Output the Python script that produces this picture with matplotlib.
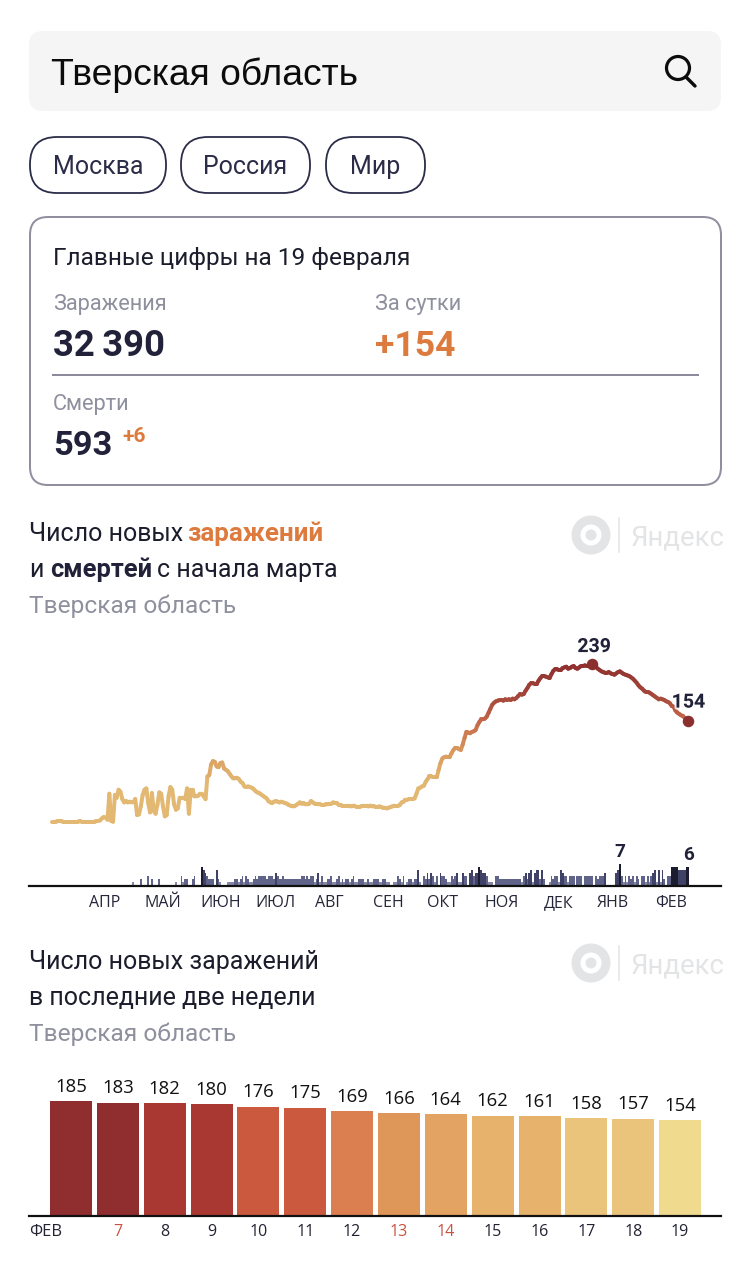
import matplotlib
matplotlib.use("Agg")
import matplotlib.pyplot as plt
import matplotlib.patheffects as pe
from matplotlib.patches import FancyBboxPatch, Circle
from matplotlib.collections import LineCollection
from matplotlib.colors import LinearSegmentedColormap, Normalize
import logging
logging.getLogger("matplotlib.font_manager").setLevel(logging.ERROR)

# ---- data ----
new_cases = [
    2,2,2,3,3,3,2,2,2,2, 2,2,2,2,2,3,2,2,2,2, 2,2,2,2,3,3,4,7,9,8,
    5,44,3,2,42,38,50,47,36,31, 33,31,32,31,31,36,12,13,25,42,
    50,52,30,16,45,18,14,28,46,44, 25,10,12,40,54,50,28,20,22,38,
    38,38,36,52,14,50,50,40,40,41, 44,44,40,36,70,72,88,93,92,85,
    84,90,91,82,80,78,74,70,67,67, 68,66,62,60,55,54,55,54,53,51,
    48,46,45,43,41,39,37,33,31,30, 32,33,32,31,32,31,30,29,27,26,
    25,25,27,29,31,29,30,28,28,29, 33,31,29,29,28,28,27,27,28,28,
    29,29,31,30,30,27,27,26,26,26, 26,25,25,26,25,24,24,25,26,26,
    26,25,26,25,25,24,24,25,24,23, 23,22,23,24,25,26,26,26,27,31,
    32,35,35,36,36,36,37,44,52,53, 55,56,62,66,70,70,69,69,69,80,
    90,97,99,100,100,100,105,110,113,113, 111,110,118,128,137,136,135,137,138,140,
    147,152,156,156,157,160,166,172,178,181, 183,184,185,185,184,186,185,186,185,187,
    186,188,191,194,193,194,199,203,208,210, 210,209,209,214,218,221,221,220,219,218,
    224,229,231,231,230,230,233,234,235,232, 233,235,236,233,232,234,236,236,237,236,
    237,238,239,238,235,232,230,228,227,226, 226,227,225,224,223,225,227,228,226,224,
    223,222,221,219,217,214,211,207,204,202, 199,197,197,196,194,192,190,188,186,187,
    186,185,183,182,180,176,175,169,166,164,162,161,158,157,154,
]
deaths = [
    0,0,0,0,0,0,0,0,0,0, 0,0,0,0,0,0,0,0,0,0, 0,0,0,0,0,0,0,0,0,0, 0,0,0,0,0,0,0,0,0,0,
    0,0,0,0,1,0,0,0,2,0, 0,0,3,0,2,0,0,0,2,0, 0,0,0,0,0,0,0,1,0,0, 3,1,2,2,0,0,2,3,0,0,
    0,6,5,4,3,2,2,2,0,5, 2,1,0,0,0,1,1,1,1,2, 2,1,2,3,1,3,2,1,1,2, 3,2,3,3,3,3,2,3,3,3,
    2,4,3,2,2,3,2,2,2,2, 2,2,2,2,2,3,3,2,3,2, 3,3,1,2,4,1,3,1,1,2, 2,3,1,1,2,3,1,2,1,2,
    2,1,2,3,1,1,2,2,2,1, 1,2,1,1,2,2,2,1,1,2, 2,1,1,0,0,1,1,3,2,1, 3,0,1,2,2,1,2,2,5,1,
    0,3,2,4,2,4,3,1,3,0, 4,3,3,2,1,1,3,2,3,4, 1,1,4,3,3,0,4,5,3,4, 4,6,5,4,4,3,1,1,1,0,
    3,3,2,2,2,2,2,2,2,2, 2,2,2,2,1,3,4,2,4,5, 1,4,5,5,2,5,2,0,0,1, 3,2,3,3,1,5,4,3,3,1,
    3,3,3,0,3,3,3,0,3,3, 3,3,3,0,3,2,3,3,3,4, 0,0,0,0,0,4,5,7,3,1, 3,1,3,2,3,1,3,2,0,3,
    3,1,3,1,3,4,5,1,5,1, 5,2,0,3,3,6,6,6,6,5, 5,5,5,6,6,
]
month_labels = ["АПР","МАЙ","ИЮН","ИЮЛ","АВГ","СЕН","ОКТ","НОЯ","ДЕК","ЯНВ","ФЕВ"]
month_pos = [28.6,60,91.4,121,149.7,181.6,211,243,274,303,334.6]

last14_days = ["7","8","9","10","11","12","13","14","15","16","17","18","19"]
last14_vals = [185,183,182,180,176,175,169,166,164,162,161,158,157,154]
last14_cols = ["#8f2d2f","#8f2d2f","#a93732","#a93732","#cb593e","#cb593e","#dc7f50",
               "#df9659","#e3a363","#e7b26c","#e7b26c","#ebc47b","#ebc47b","#f0da8e"]
holiday_days = ["7","13","14"]

FONT = ["Roboto","DejaVu Sans"]
OPEN = ["Open Sans","DejaVu Sans"]
plt.rcParams["font.family"] = FONT
W, H = 750, 1262
DPI = 100
INK, GREY, ORANGE = "#21223a", "#8f909e", "#dd7b3f"
def pt(px): return px*72/DPI

fig = plt.figure(figsize=(W/DPI, H/DPI), dpi=DPI, facecolor="white")
ui = fig.add_axes([0,0,1,1]); ui.set_xlim(0,W); ui.set_ylim(H,0); ui.axis("off")

def box(x0,y0,x1,y1,r,fc="none",ec="none",lw=0):
    ui.add_patch(FancyBboxPatch((x0+r,y0+r),x1-x0-2*r,y1-y0-2*r,boxstyle=f"round,pad={r},rounding_size={r}",
                                fc=fc,ec=ec,lw=lw*72/DPI))
def txt(x,y,s,size,color=INK,weight="normal",ha="left",family=None,**kw):
    return ui.text(x,y,s,fontsize=pt(size),color=color,fontweight=weight,ha=ha,va="baseline",
                   family=family or FONT,**kw)

# search box
box(29,31,721,111,14,fc="#f5f5f5")
txt(51,85,"Тверская область",37.3,color="#0c0c0c",family=["Liberation Sans","DejaVu Sans"])
ui.add_patch(Circle((678,68),11.5,fc="none",ec="#0c0c0c",lw=pt(3.2)))
ui.plot([686,695],[77,86],color="#0c0c0c",lw=pt(3.4),solid_capstyle="round")

# pills
for x0,x1,s in [(30,166,"Москва"),(181,310,"Россия"),(326,425,"Мир")]:
    box(x0,137,x1,193,27,fc="white",ec="#2b2c48",lw=1.8)
    txt((x0+x1)/2,174,s,25,color="#2b2c48",ha="center")

# summary card
box(30,217,721,485,18,fc="white",ec="#8f8f9f",lw=2)
txt(53,265,"Главные цифры на 19 февраля",24.4,color="#1c1d2c")
txt(53,310,"Заражения",21.8,color=GREY)
txt(375,310,"За сутки",21.8,color=GREY)
txt(53,356,"32\u2009390",36.5,weight="bold")
txt(375,356,"+154",35.5,weight="bold",color=ORANGE)
ui.plot([53,698],[375,375],color="#8b8b9c",lw=pt(2))
txt(53,410,"Смерти",21.8,color=GREY)
txt(53,455,"593",34.5,weight="bold")
txt(122,442,"+6",21,weight="bold",color=ORANGE)

# headings
txt(29,541,"Число новых",25,color="#1c1d2c")
txt(187,541,"заражений",26,weight="bold",color=ORANGE)
txt(29,577,"и",25,color="#1c1d2c")
txt(50,577,"смертей",25.5,weight="bold")
txt(157,577,"с начала марта",25,color="#1c1d2c")
txt(29,613,"Тверская область",24.5,color=GREY)
txt(29,969,"Число новых заражений",25,color="#1c1d2c")
txt(29,1005,"в последние две недели",25,color="#1c1d2c")
txt(29,1041,"Тверская область",24.5,color=GREY)

# watermarks
for cy in (535,963):
    ui.add_patch(Circle((591,cy),19.5,fc="#e3e4e6",ec="none"))
    ui.add_patch(Circle((591,cy),10.5,fc="white",ec="none"))
    ui.add_patch(Circle((591,cy),5.5,fc="#e3e4e6",ec="none"))
    ui.plot([619,619],[cy-17,cy+17],color="#e3e4e6",lw=pt(1.5))
    txt(631,cy+10,"Яндекс",27.5,color="#e3e4e6")

# ---- line + deaths chart ----
def axpos(x0,ytop,x1,ybot):
    return [x0/W, 1-ybot/H, (x1-x0)/W, (ybot-ytop)/H]
PXDAY = 1.85
ax = fig.add_axes(axpos(29,620,721,885.5)); ax.patch.set_alpha(0)
ax.set_xlim((29-52)/PXDAY,(721-52)/PXDAY)
ax.set_ylim(0,(885.5-620)/3.1)
for s in ("top","left","right"): ax.spines[s].set_visible(False)
ax.spines["bottom"].set_linewidth(pt(2.2)); ax.spines["bottom"].set_color("#111111")
ax.set_yticks([])
ax.set_xticks(month_pos); ax.set_xticklabels(month_labels,fontsize=pt(16),color="#26263a",family=OPEN,va="baseline")
ax.tick_params(axis="x",length=0,pad=pt(21.5))

def death_color(v):
    return "#8688a6" if v<=1 else "#60638a" if v<=3 else "#3f4166" if v<=5 else "#1b1c30"
days = list(range(len(new_cases)))
ax.bar(days,deaths,width=1.0,color=[death_color(v) for v in deaths],linewidth=0)
ax.text(307,7+1.0,"7",fontsize=pt(19),fontweight="bold",ha="center",va="bottom",color=INK)
ax.text(344,6+1.0,"6",fontsize=pt(19),fontweight="bold",ha="center",va="bottom",color=INK)

lx = ax.twinx(); lx.patch.set_alpha(0); lx.axis("off")
lx.set_xlim(ax.get_xlim())
lx.set_ylim(-(885.5-823)/0.665,(823-620)/0.665)
cmap = LinearSegmentedColormap.from_list("c",[(0,"#e2b873"),(.25,"#e2b873"),(.45,"#d99a5e"),
      (.65,"#c4674a"),(.8,"#a5473b"),(1,"#8f2f2f")])
segs = [[(days[i],new_cases[i]),(days[i+1],new_cases[i+1])] for i in range(len(days)-1)]
lc = LineCollection(segs,cmap=cmap,norm=Normalize(0,239),linewidths=pt(4),capstyle="round",joinstyle="round")
lc.set_array([(new_cases[i]+new_cases[i+1])/2 for i in range(len(days)-1)])
lx.add_collection(lc)
pk = new_cases.index(max(new_cases))
lx.plot([pk,days[-1]],[new_cases[pk],new_cases[-1]],ls="none",marker="o",ms=pt(11.5),color="#8c2f2f",mew=0,zorder=5)
halo = [pe.withStroke(linewidth=pt(4),foreground="white",alpha=.8)]
lx.annotate(str(new_cases[pk]),(pk,new_cases[pk]),xytext=(pt(2),pt(8)),textcoords="offset points",ha="center",va="bottom",
            fontsize=pt(19.5),fontweight="bold",color=INK,path_effects=halo,zorder=6)
lx.annotate(str(new_cases[-1]),(days[-1],new_cases[-1]),xytext=(0,pt(9)),textcoords="offset points",ha="center",va="bottom",
            fontsize=pt(19.5),fontweight="bold",color=INK,path_effects=halo,zorder=6)

# ---- last two weeks ----
bx = fig.add_axes(axpos(29,1070,721,1215.5)); bx.patch.set_alpha(0)
bx.set_xlim(-(71-29)/46.85,(721-71)/46.85)
bx.set_ylim(0,(1215.5-1070)/0.617)
for s in ("top","left","right"): bx.spines[s].set_visible(False)
bx.spines["bottom"].set_linewidth(pt(2.2)); bx.spines["bottom"].set_color("#111111")
bx.set_yticks([])
pos = list(range(len(last14_vals)))
rects = bx.bar(pos,last14_vals,width=42/46.85,color=last14_cols,linewidth=0)
for r,v in zip(rects,last14_vals):
    bx.annotate(str(v),(r.get_x()+r.get_width()/2,v),xytext=(0,pt(5.5)),textcoords="offset points",
                ha="center",va="bottom",fontsize=pt(18.5),color="#111111",family=OPEN)
bx.set_xticks(pos[1:]); bx.set_xticklabels(last14_days,fontsize=pt(16),family=OPEN,va="baseline")
for t,l in zip(bx.get_xticklabels(),last14_days):
    t.set_color("#c9533f" if l in holiday_days else "#222233")
bx.tick_params(axis="x",length=0,pad=pt(20.5))
txt(29,1236,"ФЕВ",16.5,color="#222233",family=OPEN)

fig.savefig("out.png",dpi=DPI,facecolor="white")
